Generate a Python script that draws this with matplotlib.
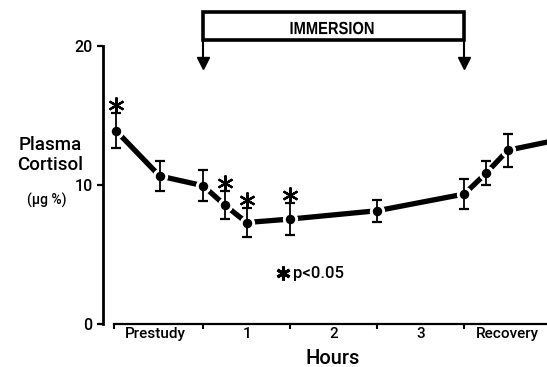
import matplotlib
matplotlib.use('Agg')
import matplotlib.pyplot as plt
from matplotlib.patches import Rectangle, PathPatch
from matplotlib.textpath import TextPath
from matplotlib.font_manager import FontProperties
from matplotlib.transforms import Affine2D

plt.rcParams['font.family'] = ['Roboto', 'DejaVu Sans']
plt.rcParams['font.weight'] = 'medium'

# values (hours relative to start of immersion)
hours = [-1.0, -0.5, 0.0, 0.25, 0.5, 1.0, 2.0, 3.0, 3.25, 3.5, 4.5]
cortisol = [13.9, 10.65, 9.95, 8.55, 7.3, 7.55, 8.15, 9.35, 10.85, 12.5, 13.8]
sem = [1.25, 1.1, 1.1, 1.0, 1.05, 1.15, 0.8, 1.1, 0.85, 1.2, 1.2]
significant = [True, False, False, True, True, True, False, False, False, False, False]

interval_labels = ['Prestudy', '1', '2', '3', 'Recovery']
interval_centers = [-0.55, 0.5, 1.5, 2.5, 3.5]
interval_edges = [-1.02, 0, 1, 2, 3]
immersion_start, immersion_end = 0, 3

fig = plt.figure(figsize=(5.47, 3.67), dpi=100)
ax = fig.add_axes([103 / 547, 43 / 367, 444 / 547, 278 / 367])
ax.set_xlim(-1.15, 3.95)
ax.set_ylim(0, 20)

# thick connecting line, white rings give the small gaps at each point
ax.plot(hours, cortisol, color='black', lw=3.8, solid_capstyle='butt', zorder=2)
ax.plot(hours, cortisol, 'o', ms=10, color='white', mec='white', zorder=3)
ax.errorbar(hours, cortisol, yerr=sem, fmt='none', ecolor='black',
            elinewidth=1.3, capsize=3.3, capthick=1.6, zorder=4)
ax.plot(hours, cortisol, 'o', ms=5.8, color='black', zorder=5)

# significance stars
star_x = [h for h, s in zip(hours, significant) if s]
star_y = [c + e + 0.6 for c, e, s in zip(cortisol, sem, significant) if s]
ax.plot(star_x, star_y, ls='none', marker=(6, 2, 0), ms=11.5, mew=1.6,
        color='black', zorder=5)
ax.plot([0.92], [3.65], ls='none', marker=(6, 2, 0), ms=10, mew=2.2, color='black')
ax.text(1.03, 3.65, 'p<0.05', fontsize=12, va='center', ha='left')

# axes styling
for side in ['top', 'right']:
    ax.spines[side].set_visible(False)
ax.spines['left'].set_linewidth(2)
ax.spines['left'].set_bounds(0, 20)
ax.spines['bottom'].set_linewidth(1.6)
ax.spines['bottom'].set_bounds(-1.02, 3.95)
ax.set_yticks([0, 10, 20])
ax.set_yticklabels(['0', '10', '20'], fontsize=11.5)
ax.tick_params(axis='y', length=4.5, width=1.6, pad=3)
ax.set_xticks(interval_edges)
ax.set_xticklabels([])
ax.set_xticks(interval_centers, minor=True)
ax.set_xticklabels(interval_labels, minor=True, fontsize=11)
ax.tick_params(axis='x', which='major', length=3.6, width=1.5)
ax.tick_params(axis='x', which='minor', length=0, pad=2)

# immersion bar with arrows
box = Rectangle((immersion_start, 20.43), immersion_end - immersion_start, 2.04,
                fill=False, lw=2.6, ec='black', clip_on=False)
ax.add_patch(box)
for xa in [immersion_start, immersion_end]:
    ax.plot([xa, xa], [20.43, 19.0], color='black', lw=1.5, clip_on=False)
    ax.plot([xa], [18.8], marker='v', ms=9, color='black', clip_on=False)

# condensed bold label: squeeze a text path horizontally
tp = TextPath((0, 0), 'IMMERSION', size=1,
              prop=FontProperties(family='Liberation Sans', weight='bold'))
ext = tp.get_extents()
sx, sy = 83 / ext.width, 12.5 / ext.height
cx, cy = 332, 367 - 28
tr = (Affine2D().translate(-ext.x0 - ext.width / 2, -ext.y0 - ext.height / 2)
      .scale(sx, sy).translate(cx, cy))
fig.patches.append(PathPatch(tr.transform_path(tp), fc='black', ec='none',
                             transform=None, figure=fig))

# axis titles
fig.text(50 / 547, 1 - 145 / 367, 'Plasma', fontsize=13.5, ha='center', va='center')
fig.text(50 / 547, 1 - 165 / 367, 'Cortisol', fontsize=13.5, ha='center', va='center')
fig.text(47 / 547, 1 - 200 / 367, '(\u00b5g %)', fontsize=10, ha='center', va='center')
fig.text(333 / 547, 1 - 359 / 367, 'Hours', fontsize=14.5, ha='center', va='center')

fig.savefig('out.png', dpi=100)
